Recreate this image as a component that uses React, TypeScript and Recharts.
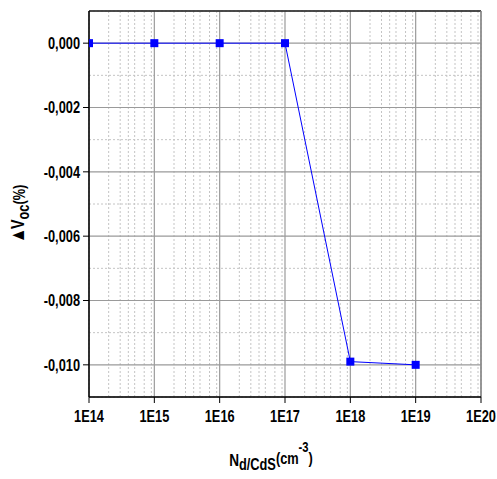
import { CartesianGrid, Line, LineChart, ReferenceLine, XAxis, YAxis } from "recharts";

const concentrations = [1e14, 1e15, 1e16, 1e17, 1e18, 1e19];
const deltaVoc = [0, 0, 0, 0, -0.0099, -0.01];
const decadeTicks = [1e14, 1e15, 1e16, 1e17, 1e18, 1e19, 1e20];
const minorMultipliers = [2, 3, 4, 5, 6, 7, 8, 9];
const vocTicks = [0, -0.002, -0.004, -0.006, -0.008, -0.01];
const vocMinorTicks = [-0.001, -0.003, -0.005, -0.007, -0.009];

// no Arial Narrow here, so squeeze Liberation Sans horizontally
const font = "'Liberation Sans', Arial, sans-serif";
const squeeze = 0.8;

const data = concentrations.map((n, i) => ({ n, dv: deltaVoc[i] }));
const minorX = decadeTicks.slice(0, -1).flatMap((d) => minorMultipliers.map((m) => m * d));

const SquareDot = (props: any) => {
    const { cx, cy } = props;
    if (cx == null || cy == null) return null;
    return <rect key={`${cx}-${cy}`} x={cx - 4} y={cy - 4} width={8} height={8} fill="#0000ff" />;
};

const XTick = ({ x, y, payload }: any) => (
    <text
        transform={`translate(${x},${y}) scale(${squeeze},1)`}
        textAnchor="middle"
        dy="0.71em"
        fontFamily={font}
        fontWeight={700}
        fontSize={16}
        fill="#000"
    >
        {`1E${Math.round(Math.log10(payload.value))}`}
    </text>
);

const YTick = ({ x, y, payload }: any) => (
    <text
        transform={`translate(${x},${y}) scale(${squeeze},1)`}
        textAnchor="end"
        dy="0.36em"
        fontFamily={font}
        fontWeight={700}
        fontSize={16}
        fill="#000"
    >
        {payload.value.toFixed(3).replace(".", ",")}
    </text>
);

const XTitle = (props: any) => {
    const { x, y, width } = props.viewBox;
    return (
        <text
            transform={`translate(${x + width / 2 - 14},${y + 69}) scale(${squeeze},1)`}
            textAnchor="middle"
            fontFamily={font}
            fontWeight={700}
            fill="#000"
        >
            <tspan fontSize={17}>N</tspan>
            <tspan fontSize={16} dy={4}>d/CdS</tspan>
            <tspan fontSize={16} dy={-6}>(cm</tspan>
            <tspan fontSize={14} dy={-12}>-3</tspan>
            <tspan fontSize={16} dy={12}>)</tspan>
        </text>
    );
};

const YTitle = (props: any) => {
    const { y, height } = props.viewBox;
    const cx = 24;
    const cy = y + height / 2 + 10;
    return (
        <text
            transform={`translate(${cx},${cy}) rotate(-90) scale(${squeeze},1)`}
            textAnchor="middle"
            fontFamily={font}
            fontWeight={700}
            fill="#000"
        >
            <tspan fontSize={20}>▲</tspan>
            <tspan fontSize={18} dx={-2}>V</tspan>
            <tspan fontSize={16} dy={5}>oc</tspan>
            <tspan fontSize={16} dy={-4}>(%)</tspan>
        </text>
    );
};

export default function App() {
    return (
        <div style={{ position: "absolute", left: 0, top: 0 }}>
            <LineChart width={497} height={479} data={data} margin={{ top: 11, right: 16, bottom: 0, left: 0 }}>
                <CartesianGrid xAxisId="minor" yAxisId="minor" stroke="#c4c4c4" strokeDasharray="2 2" />
                <CartesianGrid stroke="#9a9a9a" strokeWidth={1.2} />
                <XAxis
                    xAxisId="minor"
                    dataKey="n"
                    type="number"
                    scale="log"
                    domain={[1e14, 1e20]}
                    allowDataOverflow
                    ticks={minorX}
                    height={0}
                    axisLine={false}
                    tickSize={3}
                    tickLine={{ stroke: "#000" }}
                    tickFormatter={() => ""}
                />
                <XAxis
                    dataKey="n"
                    type="number"
                    scale="log"
                    domain={[1e14, 1e20]}
                    allowDataOverflow
                    ticks={decadeTicks}
                    interval={0}
                    height={82}
                    tickSize={6}
                    tickMargin={8}
                    axisLine={{ stroke: "#000", strokeWidth: 1.5 }}
                    tickLine={{ stroke: "#000" }}
                    tick={XTick}
                    label={{ content: XTitle }}
                />
                <YAxis
                    yAxisId="minor"
                    type="number"
                    domain={[-0.011, 0.001]}
                    allowDataOverflow
                    ticks={vocMinorTicks}
                    width={0}
                    axisLine={false}
                    tickSize={3}
                    tickLine={{ stroke: "#000" }}
                    tickFormatter={() => ""}
                />
                <YAxis
                    type="number"
                    domain={[-0.011, 0.001]}
                    allowDataOverflow
                    ticks={vocTicks}
                    interval={0}
                    width={89}
                    tickSize={6}
                    tickMargin={3}
                    axisLine={{ stroke: "#000", strokeWidth: 1.5 }}
                    tickLine={{ stroke: "#000" }}
                    tick={YTick}
                    label={{ content: YTitle }}
                />
                <ReferenceLine y={0.001} stroke="#222" strokeWidth={1.5} />
                <ReferenceLine x={1e20} stroke="#888" strokeWidth={1.5} />
                <Line
                    dataKey="dv"
                    type="linear"
                    stroke="#0000ff"
                    strokeWidth={1}
                    dot={SquareDot}
                    activeDot={false}
                    isAnimationActive={false}
                />
            </LineChart>
        </div>
    );
}
